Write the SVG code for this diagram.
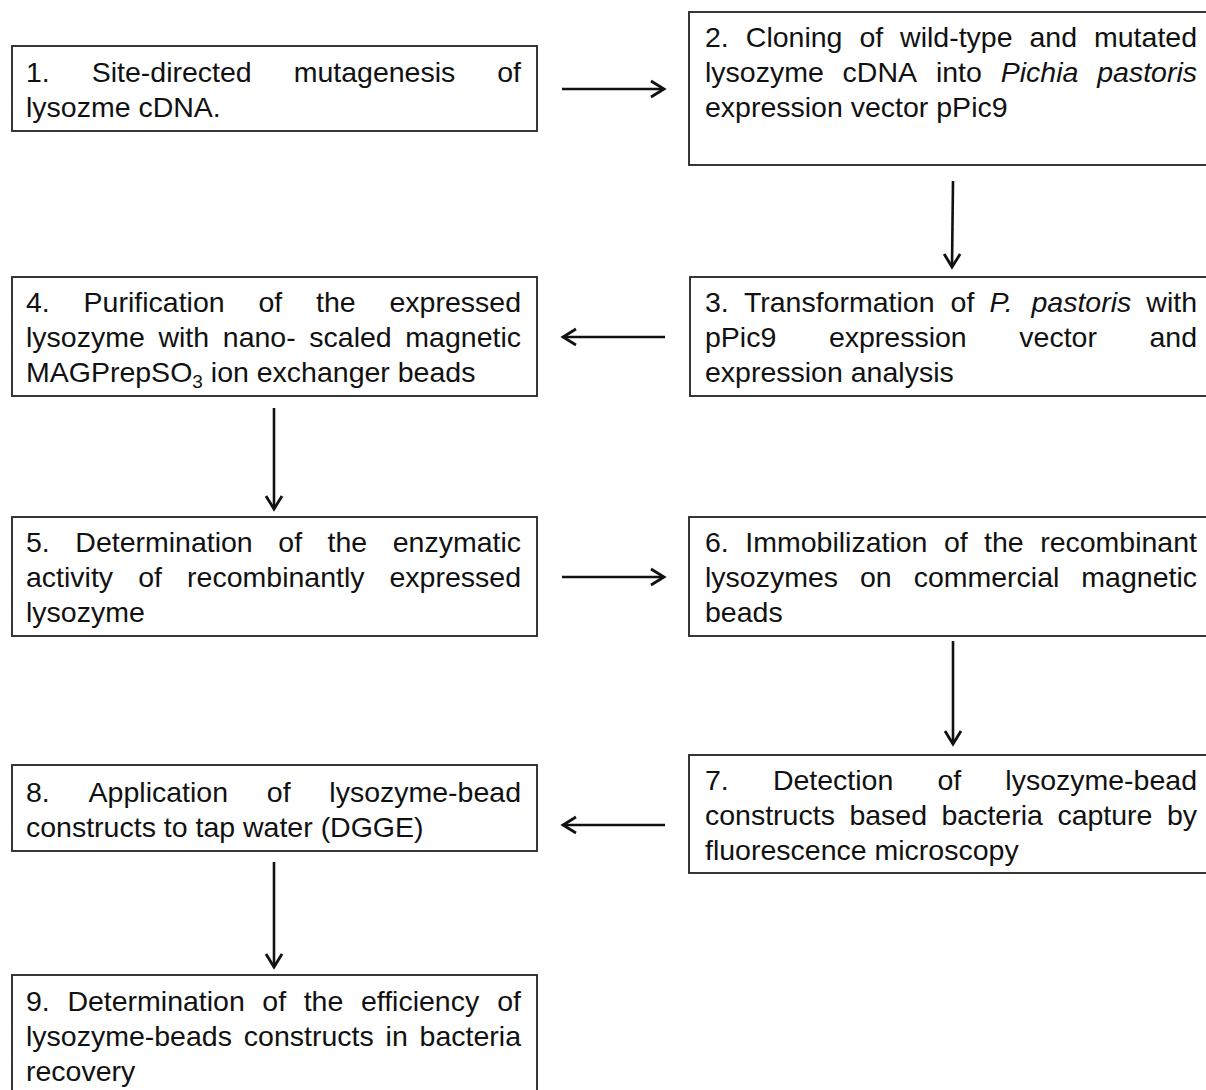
<svg xmlns="http://www.w3.org/2000/svg" width="1206" height="1090" viewBox="0 0 1206 1090">
<style>
.box{fill:#fff;stroke:#222;stroke-width:1.8}
.t{font-family:"Liberation Sans",Arial,sans-serif;font-size:28.5px;fill:#111}
.e{text-anchor:end}
.i{font-style:italic}
.con{stroke:#111;stroke-width:2.6;fill:none}
</style>
<defs>
<marker id="ah" markerUnits="userSpaceOnUse" markerWidth="24" markerHeight="24" viewBox="-16 -12 18 24" refX="0" refY="0" orient="auto">
<path d="M-13,-8 L0,0 L-13,8" fill="none" stroke="#111" stroke-width="2.8" stroke-linejoin="miter"/>
</marker>
</defs>
<rect width="1206" height="1090" fill="#fff"/>
<g id="connectors">
<line class="con" x1="562" y1="89" x2="664" y2="89" marker-end="url(#ah)"/>
<line class="con" x1="953" y1="181" x2="952" y2="267" marker-end="url(#ah)"/>
<line class="con" x1="665" y1="337" x2="563" y2="337" marker-end="url(#ah)"/>
<line class="con" x1="274" y1="408" x2="274" y2="509" marker-end="url(#ah)"/>
<line class="con" x1="562" y1="577" x2="664" y2="577" marker-end="url(#ah)"/>
<line class="con" x1="953" y1="641" x2="953" y2="744" marker-end="url(#ah)"/>
<line class="con" x1="665" y1="825" x2="563" y2="825" marker-end="url(#ah)"/>
<line class="con" x1="274" y1="862" x2="274" y2="967" marker-end="url(#ah)"/>
</g>
<g id="n1">
<rect class="box" x="12" y="46" width="525" height="85"/>
<text class="t" y="82"><tspan x="26">1.</tspan><tspan x="91.7">Site-directed</tspan><tspan x="293.7">mutagenesis</tspan><tspan x="521" class="e">of</tspan></text>
<text class="t" x="26" y="117">lysozme cDNA.</text>
</g>
<g id="n2">
<rect class="box" x="689" y="12" width="530" height="153"/>
<text class="t" y="47"><tspan x="705">2.</tspan><tspan x="745.8">Cloning</tspan><tspan x="859.4">of</tspan><tspan x="900.1">wild-type</tspan><tspan x="1029.5">and</tspan><tspan x="1197" class="e">mutated</tspan></text>
<text class="t" y="82"><tspan x="705">lysozyme</tspan><tspan x="842.6">cDNA</tspan><tspan x="935.9">into</tspan><tspan x="1000.7" class="i">Pichia</tspan><tspan x="1197" class="e i">pastoris</tspan></text>
<text class="t" x="705" y="117">expression vector pPic9</text>
</g>
<g id="n3">
<rect class="box" x="690" y="277" width="530" height="119"/>
<text class="t" y="312"><tspan x="705">3.</tspan><tspan x="743.9">Transformation</tspan><tspan x="950.6">of</tspan><tspan x="989.4" class="i">P.</tspan><tspan x="1031.5" class="i">pastoris</tspan><tspan x="1197" class="e">with</tspan></text>
<text class="t" y="347"><tspan x="705">pPic9</tspan><tspan x="828.9">expression</tspan><tspan x="1019.3">vector</tspan><tspan x="1197" class="e">and</tspan></text>
<text class="t" x="705" y="382">expression analysis</text>
</g>
<g id="n4">
<rect class="box" x="12" y="277" width="525" height="119"/>
<text class="t" y="312"><tspan x="26">4.</tspan><tspan x="83.6">Purification</tspan><tspan x="258.4">of</tspan><tspan x="316.1">the</tspan><tspan x="521" class="e">expressed</tspan></text>
<text class="t" y="347"><tspan x="26">lysozyme</tspan><tspan x="158.4">with</tspan><tspan x="222.8">nano-</tspan><tspan x="309.3">scaled</tspan><tspan x="521" class="e">magnetic</tspan></text>
<text class="t" x="26" y="382">MAGPrepSO<tspan font-size="19" dy="6">3</tspan><tspan dy="-6"> ion exchanger beads</tspan></text>
</g>
<g id="n5">
<rect class="box" x="12" y="517" width="525" height="119"/>
<text class="t" y="552"><tspan x="26">5.</tspan><tspan x="75.3">Determination</tspan><tspan x="278.3">of</tspan><tspan x="327.6">the</tspan><tspan x="521" class="e">enzymatic</tspan></text>
<text class="t" y="587"><tspan x="26">activity</tspan><tspan x="138.2">of</tspan><tspan x="187.1">recombinantly</tspan><tspan x="521" class="e">expressed</tspan></text>
<text class="t" x="26" y="622">lysozyme</text>
</g>
<g id="n6">
<rect class="box" x="689" y="517" width="530" height="119"/>
<text class="t" y="552"><tspan x="705">6.</tspan><tspan x="745.3">Immobilization</tspan><tspan x="943.9">of</tspan><tspan x="984.1">the</tspan><tspan x="1197" class="e">recombinant</tspan></text>
<text class="t" y="587"><tspan x="705">lysozymes</tspan><tspan x="860">on</tspan><tspan x="913.7">commercial</tspan><tspan x="1197" class="e">magnetic</tspan></text>
<text class="t" x="705" y="622">beads</text>
</g>
<g id="n7">
<rect class="box" x="689" y="755" width="530" height="118"/>
<text class="t" y="790"><tspan x="705">7.</tspan><tspan x="772.9">Detection</tspan><tspan x="937.5">of</tspan><tspan x="1197" class="e">lysozyme-bead</tspan></text>
<text class="t" y="825"><tspan x="705">constructs</tspan><tspan x="849.4">based</tspan><tspan x="941.5">bacteria</tspan><tspan x="1057.4">capture</tspan><tspan x="1197" class="e">by</tspan></text>
<text class="t" x="705" y="860">fluorescence microscopy</text>
</g>
<g id="n8">
<rect class="box" x="12" y="765" width="525" height="86"/>
<text class="t" y="802"><tspan x="26">8.</tspan><tspan x="88.6">Application</tspan><tspan x="266.8">of</tspan><tspan x="521" class="e">lysozyme-bead</tspan></text>
<text class="t" x="26" y="837">constructs to tap water (DGGE)</text>
</g>
<g id="n9">
<rect class="box" x="12" y="975" width="525" height="130"/>
<text class="t" y="1011"><tspan x="26">9.</tspan><tspan x="67.4">Determination</tspan><tspan x="262.3">of</tspan><tspan x="303.7">the</tspan><tspan x="360.9">efficiency</tspan><tspan x="521" class="e">of</tspan></text>
<text class="t" y="1046"><tspan x="26">lysozyme-beads</tspan><tspan x="243.8">constructs</tspan><tspan x="385.6">in</tspan><tspan x="521" class="e">bacteria</tspan></text>
<text class="t" x="26" y="1081">recovery</text>
</g>
</svg>
